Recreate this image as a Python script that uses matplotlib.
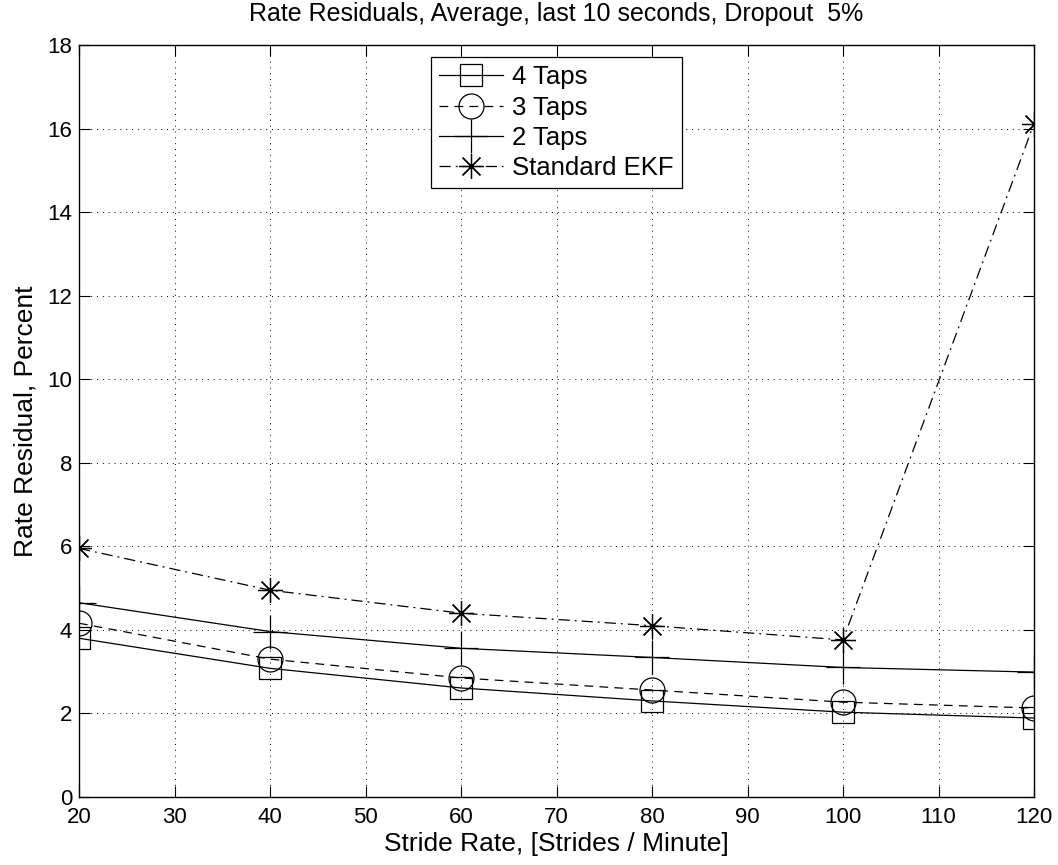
import matplotlib
matplotlib.use("Agg")
import matplotlib.pyplot as plt

plt.rcParams['font.family'] = ['Liberation Sans', 'DejaVu Sans']

stride_rate = [20, 40, 60, 80, 100, 120]
taps4 = [3.80, 3.08, 2.61, 2.30, 2.03, 1.89]
taps3 = [4.16, 3.30, 2.85, 2.56, 2.27, 2.13]
taps2 = [4.65, 3.96, 3.56, 3.34, 3.10, 2.99]
ekf = [5.95, 4.95, 4.40, 4.10, 3.76, 16.12]

series_labels = ['4 Taps', '3 Taps', '2 Taps', 'Standard EKF']
x_ticks = list(range(20, 121, 10))
y_ticks = list(range(0, 19, 2))

fig = plt.figure(figsize=(10.58, 8.65), dpi=100)
ax = fig.add_axes([79 / 1058, 1 - 797 / 865, (1034 - 79) / 1058, (797 - 45) / 865])

lw = 0.9
star = (8, 2, 0)
ax.plot(stride_rate, taps4, color='k', lw=lw, ls='-', marker='s', ms=16,
        mfc='none', mec='k', mew=0.9, label=series_labels[0])
ax.plot(stride_rate, taps3, color='k', lw=lw, ls=(0, (7, 5)), marker='o', ms=18,
        mfc='none', mec='k', mew=0.9, label=series_labels[1])
ax.plot(stride_rate, taps2, color='k', lw=lw, ls='-', marker='+', ms=24,
        mfc='none', mec='k', mew=0.9, label=series_labels[2])
ax.plot(stride_rate, ekf, color='k', lw=lw, ls=(0, (9, 4, 1.5, 4)), marker=star, ms=18,
        mfc='none', mec='k', mew=0.9, label=series_labels[3])

ax.set_xlim(20, 120)
ax.set_ylim(0, 18)
ax.set_xticks(x_ticks)
ax.set_yticks(y_ticks)
ax.tick_params(direction='in', length=8, width=0.8, top=True, right=True,
               labelsize=16, pad=5)
ax.tick_params(axis='x', pad=7)
ax.grid(True, color='k', ls=(0, (1, 5)), lw=0.7)
for s in ax.spines.values():
    s.set_linewidth(1.0)

ax.set_title('Rate Residuals, Average, last 10 seconds, Dropout  5%', fontsize=18, pad=17.5)
ax.set_xlabel('Stride Rate, [Strides / Minute]', fontsize=19, labelpad=3)
ax.set_ylabel('Rate Residual, Percent', fontsize=19, labelpad=7)

leg = ax.legend(loc='upper center', bbox_to_anchor=(0.5, 1.0006), fontsize=18.5,
                numpoints=1, handlelength=2.5, handletextpad=0.35, borderpad=0.3,
                labelspacing=0.25, fancybox=False, framealpha=1, edgecolor='k')
leg.get_frame().set_linewidth(0.9)

fig.savefig('out.png', dpi=100)
